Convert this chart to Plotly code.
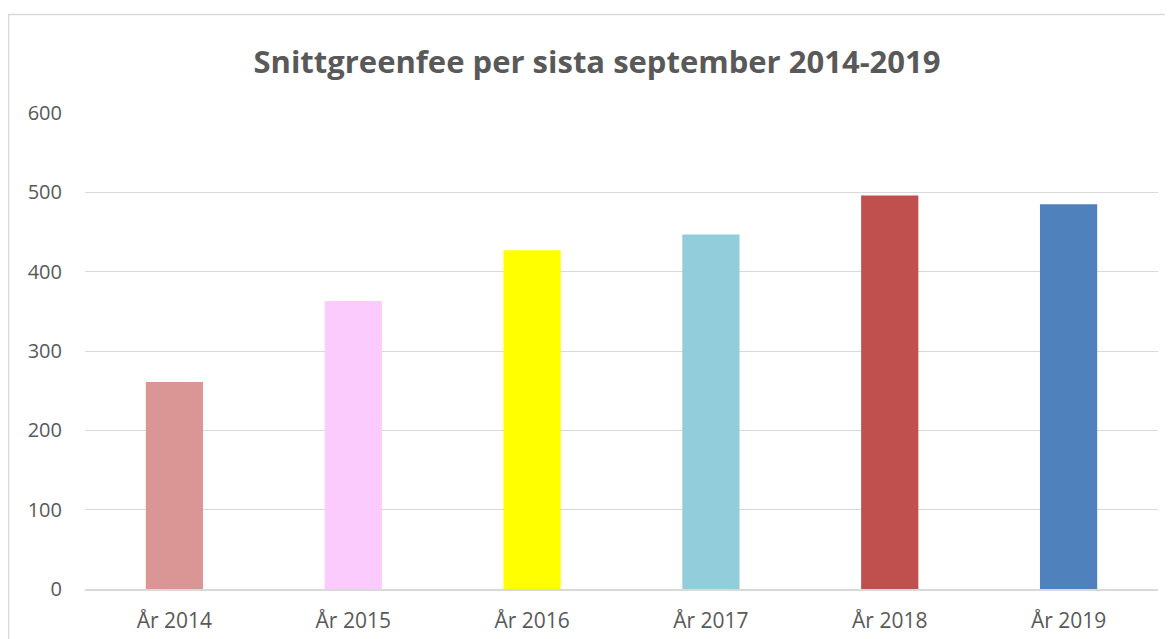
import plotly.graph_objects as go

categories = ["År 2014", "År 2015", "År 2016", "År 2017", "År 2018", "År 2019"]
values = [261, 363, 427, 447, 496, 485]
colors = ["#DA9694", "#FBCBFE", "#FFFF00", "#92CDDC", "#C0504D", "#4F81BD"]
y_ticks = [0, 100, 200, 300, 400, 500, 600]

fig = go.Figure(go.Bar(x=categories, y=values, marker=dict(color=colors, line=dict(width=0))))

# page has an 8px body margin; figure is sized to fit
W, H = 1165, 631
L, R, T, B = 77, 15, 105, 50
pw, ph = W - L - R, H - T - B

fig.update_layout(
    width=W, height=H,
    margin=dict(l=L, r=R, t=T, b=B, autoexpand=False),
    paper_bgcolor="white", plot_bgcolor="white",
    bargap=0.68,
    showlegend=False,
    font=dict(family="Open Sans, sans-serif", color="#595959", size=21),
    title=dict(text="<b>Snittgreenfee per sista september 2014-2019</b>",
               x=589 / W, xanchor="center", y=1 - 54 / H, yanchor="middle",
               font=dict(size=31, color="#595959", family="Open Sans, sans-serif")),
    xaxis=dict(showgrid=False, showline=True, linecolor="#D9D9D9", linewidth=1.5,
               automargin=False,
               ticks="", ticklabelstandoff=12, tickfont=dict(size=21, color="#595959")),
    yaxis=dict(range=[0, 600], tickvals=y_ticks, showgrid=True, gridcolor="#D9D9D9",
               automargin=False,
               gridwidth=1.3, zeroline=False, showline=False, ticks="",
               ticklabelstandoff=22, tickfont=dict(size=20, color="#595959")),
    shapes=[dict(type="rect", xref="paper", yref="paper",
                 x0=(0.5 - L) / pw, x1=1.2, y0=-0.3, y1=1 + (T - 6.5) / ph,
                 line=dict(color="#D9D9D9", width=1.5), fillcolor="rgba(0,0,0,0)", layer="below")],
)

fig.write_html("out.html")
